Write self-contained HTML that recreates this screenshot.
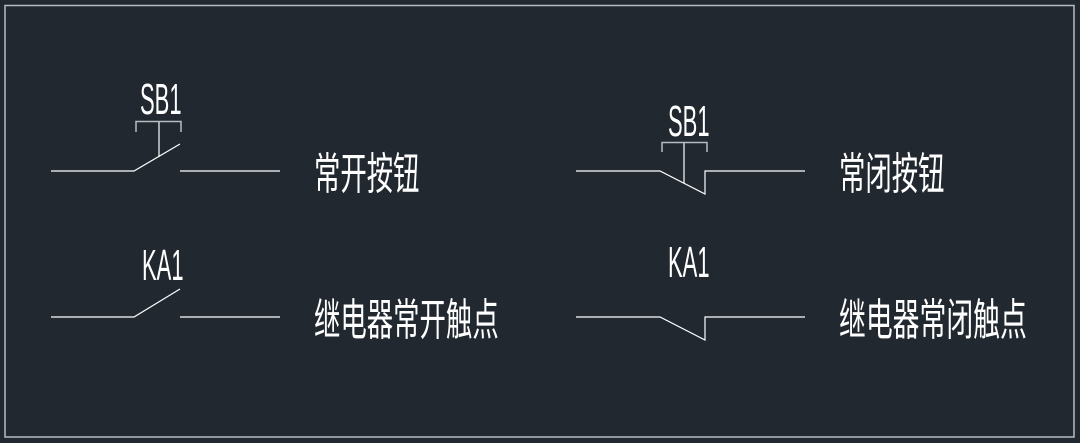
<!DOCTYPE html>
<html><head><meta charset="utf-8"><style>
html,body{margin:0;padding:0;background:#212830;}
svg{display:block}
.t{font-family:"Liberation Sans","Noto Sans CJK SC",sans-serif;fill:#fff}
</style></head><body>
<svg width="1080" height="443" viewBox="0 0 1080 443" xmlns="http://www.w3.org/2000/svg">
<rect x="0" y="0" width="1080" height="443" fill="#212830"/>
<rect x="5" y="5.5" width="1069" height="431.5" fill="none" stroke="#b8bcc0" stroke-width="1.5"/>
<g stroke="#fff" stroke-width="1.2" fill="none">
<polyline points="51,171 134,171 180,144"/>
<line x1="180" y1="171" x2="280" y2="171"/>
<line x1="159" y1="121.5" x2="159" y2="157"/>
<polyline points="51,317 134,317 180,289"/>
<line x1="180" y1="317" x2="280" y2="317"/>
<polyline points="576,171 660,171 705,194 705,171 805,171"/>
<line x1="684" y1="142.5" x2="684" y2="183"/>
<polyline points="576,317 660,317 705,340 705,317 805,317"/>
</g>
<g stroke="#b8bcc0" stroke-width="1.5" fill="none">
<polyline points="136,132 136,121.5 181,121.5 181,132"/>
<polyline points="662,152 662,142.5 707,142.5 707,152"/>
</g>
<g class="t" font-size="44">
<text x="0" y="0" transform="translate(140,114) scale(0.5,1)">SB1</text>
<text x="0" y="0" transform="translate(142,280) scale(0.5,1)">KA1</text>
<text x="0" y="0" transform="translate(668,136) scale(0.5,1)">SB1</text>
<text x="0" y="0" transform="translate(668,277) scale(0.5,1)">KA1</text>
</g>
<g class="t" font-size="44">
<text x="0" y="0" transform="translate(314,189) scale(0.6,1)">常开按钮</text>
<text x="0" y="0" transform="translate(314,335) scale(0.6,1)">继电器常开触点</text>
<text x="0" y="0" transform="translate(839,189) scale(0.6,1)">常闭按钮</text>
<text x="0" y="0" transform="translate(839,335) scale(0.61,1)">继电器常闭触点</text>
</g>
</svg>
</body></html>
